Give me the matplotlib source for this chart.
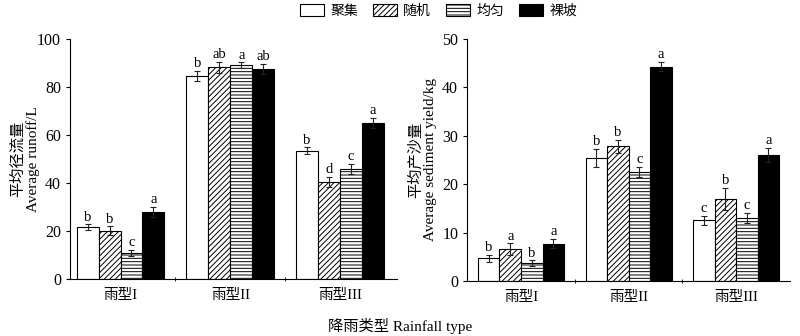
import matplotlib
matplotlib.use("Agg")
import matplotlib.pyplot as plt
from matplotlib.patches import Patch
import numpy as np

plt.rcParams['font.family'] = ['Liberation Serif', 'Noto Sans CJK SC']
plt.rcParams['hatch.linewidth'] = 0.7
plt.rcParams['axes.linewidth'] = 0.8

categories = ['雨型I', '雨型II', '雨型III']
treatments = ['聚集', '随机', '均匀', '裸坡']

# average runoff (L), rows = treatment, cols = rainfall type
runoff = [[21.5, 84.6, 53.5],
          [20.1, 88.2, 40.4],
          [10.8, 89.0, 45.8],
          [27.9, 87.4, 64.9]]
runoff_err = [[1.2, 2.0, 1.3],
              [1.8, 2.2, 2.0],
              [1.4, 1.2, 2.2],
              [2.0, 2.2, 2.2]]
runoff_sig = [['b', 'b', 'b'],
              ['b', 'ab', 'd'],
              ['c', 'a', 'c'],
              ['a', 'ab', 'a']]

# average sediment yield (kg)
sediment = [[4.7, 25.4, 12.5],
            [6.55, 27.8, 16.9],
            [3.65, 22.5, 13.0],
            [7.7, 44.3, 26.0]]
sediment_err = [[0.7, 1.9, 0.9],
                [1.2, 1.4, 2.3],
                [0.6, 1.0, 1.0],
                [1.0, 0.9, 1.5]]
sediment_sig = [['b', 'b', 'c'],
                ['a', 'b', 'b'],
                ['b', 'c', 'c'],
                ['a', 'a', 'a']]

styles = [dict(facecolor='white', hatch=''),
          dict(facecolor='white', hatch='//////'),
          dict(facecolor='white', hatch='-----'),
          dict(facecolor='black', hatch='')]

fig = plt.figure(figsize=(8, 3.36), dpi=100)
ax1 = fig.add_axes([0.0875, 0.17, 0.409, 0.714])
ax2 = fig.add_axes([0.584, 0.164, 0.4035, 0.72])


def draw(ax, vals, errs, sigs, ymax, ystep, offset):
    x = np.arange(len(categories))
    w = 0.2
    for i in range(len(treatments)):
        pos = x - 0.3 + i * w
        ax.bar(pos, vals[i], w, edgecolor='black', linewidth=0.8, **styles[i])
        ax.errorbar(pos, vals[i], yerr=errs[i], fmt='none', ecolor='#222222',
                    elinewidth=0.8, capsize=2.2, capthick=0.8)
        for p, v, e, s in zip(pos, vals[i], errs[i], sigs[i]):
            ax.text(p, v + e + offset, s, ha='center', va='bottom', fontsize=10.5)
    ax.set_ylim(0, ymax)
    ax.set_yticks(np.arange(0, ymax + 1, ystep))
    ax.set_xticks(x)
    ax.set_xticklabels(categories, fontsize=10.5)
    ax.set_xticks([0.5, 1.5], minor=True)
    ax.tick_params(axis='x', which='major', length=0, pad=7)
    ax.tick_params(axis='x', which='minor', length=3, direction='inout')
    ax.tick_params(axis='y', labelsize=11.5, length=3, width=0.8)
    ax.spines['top'].set_visible(False)
    ax.spines['right'].set_visible(False)


draw(ax1, runoff, runoff_err, runoff_sig, 100, 20, 0.3)
ax1.set_xlim(-0.46, 2.52)
ax1.set_ylabel('平均径流量\nAverage runoff/L', fontsize=11, linespacing=1.1, labelpad=-2)

draw(ax2, sediment, sediment_err, sediment_sig, 50, 10, 0.15)
ax2.set_xlim(-0.5, 2.5)
ax2.set_ylabel('平均产沙量\nAverage sediment yield/kg', fontsize=11, linespacing=1.1, labelpad=4)

handles = [Patch(edgecolor='black', linewidth=0.8, **s) for s in styles]
fig.legend(handles, treatments, loc='upper center', bbox_to_anchor=(0.548, 1.025),
           ncol=4, frameon=False, fontsize=10, handlelength=1.75, handleheight=0.9,
           handletextpad=0.45, columnspacing=1.05)

fig.text(0.5, 0.03, '降雨类型 Rainfall type', ha='center', va='center', fontsize=11)

fig.savefig('out.png', dpi=100)
